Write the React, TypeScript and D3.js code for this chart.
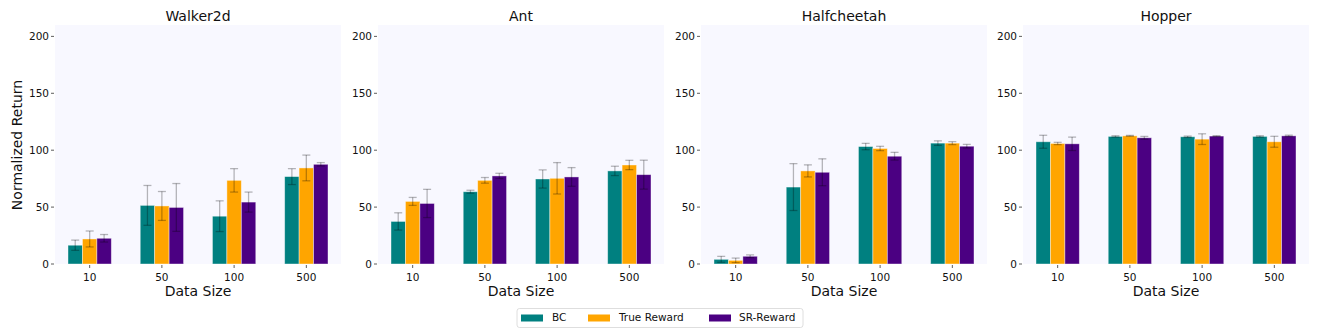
import React from 'react';
import * as d3 from 'd3';

const envs = ['Walker2d', 'Ant', 'Halfcheetah', 'Hopper'];
const sizes = ['10', '50', '100', '500'];
const methods = ['BC', 'True Reward', 'SR-Reward'];
const colors = ['#008080', '#FFA500', '#4B0082'];
const yTicks = [0, 50, 100, 150, 200];

// means[env][method][size]
const bcMean = [
  [16.5, 51.5, 42, 76.8],
  [37.4, 63.5, 74.7, 81.8],
  [4.1, 67.6, 103.2, 106.2],
  [107.4, 112.1, 111.8, 112.1],
];
const bcErr = [
  [4.5, 17.5, 13.5, 7],
  [7.6, 1.3, 8, 4.1],
  [2.6, 20.6, 2.8, 2],
  [5.7, 0.6, 0.6, 0.6],
];
const trueMean = [
  [22, 51, 73.5, 84.4],
  [55, 73.5, 75.3, 87],
  [3.2, 81.8, 101.5, 106.2],
  [105.9, 112.6, 109.7, 107.4],
];
const trueErr = [
  [7, 12.7, 10.3, 11.3],
  [3.5, 2.5, 13.8, 4.1],
  [2, 5.3, 1.9, 1.3],
  [1, 0.4, 4.7, 4.8],
];
const srMean = [
  [22.6, 49.7, 54.4, 87.6],
  [53.2, 77.4, 76.5, 78.5],
  [6.8, 80.6, 94.7, 103.5],
  [105.6, 110.9, 112.4, 112.6],
];
const srErr = [
  [3.3, 21, 8.8, 1.5],
  [12.4, 2.3, 8.2, 12.7],
  [1.2, 11.8, 3.4, 1.6],
  [5.9, 1.2, 0.3, 0.6],
];

const means = [bcMean, trueMean, srMean];
const errs = [bcErr, trueErr, srErr];

const FONT = 'DejaVu Sans, sans-serif';
const panelLeft = [55, 378, 701, 1023];
const panelW = 286;
const top = 25;
const bottom = 264;

function Panel({ e, left }: { e: number; left: number }) {
  const x = d3.scaleLinear().domain([-0.48, 3.48]).range([0, panelW]);
  const y = d3.scaleLinear().domain([0, 210]).range([bottom - top, 0]);
  const bw = x(0.2) - x(0);
  const h = bottom - top;
  return (
    <g transform={`translate(${left},${top})`}>
      <rect x={0} y={0} width={panelW} height={h} fill="#F8F8FF" />
      <text x={panelW / 2} y={-4.5} textAnchor="middle" fontSize={14} fontFamily={FONT} fill="#111">
        {envs[e]}
      </text>
      {yTicks.map((t) => (
        <g key={t}>
          <line x1={-4} x2={-1} y1={y(t)} y2={y(t)} stroke="#333" strokeWidth={0.8} />
          <text x={-6} y={y(t)} dy="0.35em" textAnchor="end" fontSize={10.5} fontFamily={FONT} fill="#111">
            {t}
          </text>
        </g>
      ))}
      {sizes.map((s, i) => (
        <g key={s}>
          <line x1={x(i)} x2={x(i)} y1={h + 1} y2={h + 4} stroke="#333" strokeWidth={0.8} />
          <text x={x(i)} y={h + 16.5} textAnchor="middle" fontSize={10.5} fontFamily={FONT} fill="#111">
            {s}
          </text>
        </g>
      ))}
      {methods.map((m, k) =>
        sizes.map((s, i) => {
          const v = means[k][e][i];
          const cx = x(i + (k - 1) * 0.2);
          return (
            <rect
              key={`${m}-${s}`}
              x={cx - bw / 2}
              y={y(v)}
              width={bw}
              height={y(0) - y(v)}
              fill={colors[k]}
              stroke="rgba(255,255,255,0.5)"
              strokeWidth={0.8}
            />
          );
        })
      )}
      {methods.map((m, k) =>
        sizes.map((s, i) => {
          const v = means[k][e][i];
          const er = errs[k][e][i];
          const cx = x(i + (k - 1) * 0.2);
          return (
            <g key={`err-${m}-${s}`} stroke="rgba(0,0,0,0.28)" strokeWidth={1.3}>
              <line x1={cx} x2={cx} y1={y(v + er)} y2={y(Math.max(0, v - er))} />
              <line x1={cx - 4} x2={cx + 4} y1={y(v + er)} y2={y(v + er)} />
              <line x1={cx - 4} x2={cx + 4} y1={y(Math.max(0, v - er))} y2={y(Math.max(0, v - er))} />
            </g>
          );
        })
      )}
      <text x={panelW / 2} y={h + 32} textAnchor="middle" fontSize={14} fontFamily={FONT} fill="#111">
        Data Size
      </text>
    </g>
  );
}

export default function App() {
  const legendItems = [
    { x: 521, tx: 552 },
    { x: 588, tx: 619 },
    { x: 709, tx: 739 },
  ];
  return (
    <svg width={1320} height={330} style={{ display: 'block', position: 'absolute', left: 0, top: 0 }}>
      <rect width={1320} height={330} fill="#fff" />
      {envs.map((_, e) => (
        <Panel key={e} e={e} left={panelLeft[e]} />
      ))}
      <text
        transform="translate(21.5,145) rotate(-90)"
        textAnchor="middle"
        fontSize={14}
        fontFamily={FONT}
        fill="#111"
      >
        Normalized Return
      </text>
      <rect x={517} y={308.5} width={286} height={19} rx={2.5} fill="#fff" stroke="#d5d5d5" strokeWidth={0.8} />
      {methods.map((m, k) => (
        <g key={m}>
          <rect x={legendItems[k].x} y={314.5} width={22} height={7} fill={colors[k]} />
          <text x={legendItems[k].tx} y={317.8} dy="0.35em" fontSize={10.5} fontFamily={FONT} fill="#111">
            {m}
          </text>
        </g>
      ))}
    </svg>
  );
}
